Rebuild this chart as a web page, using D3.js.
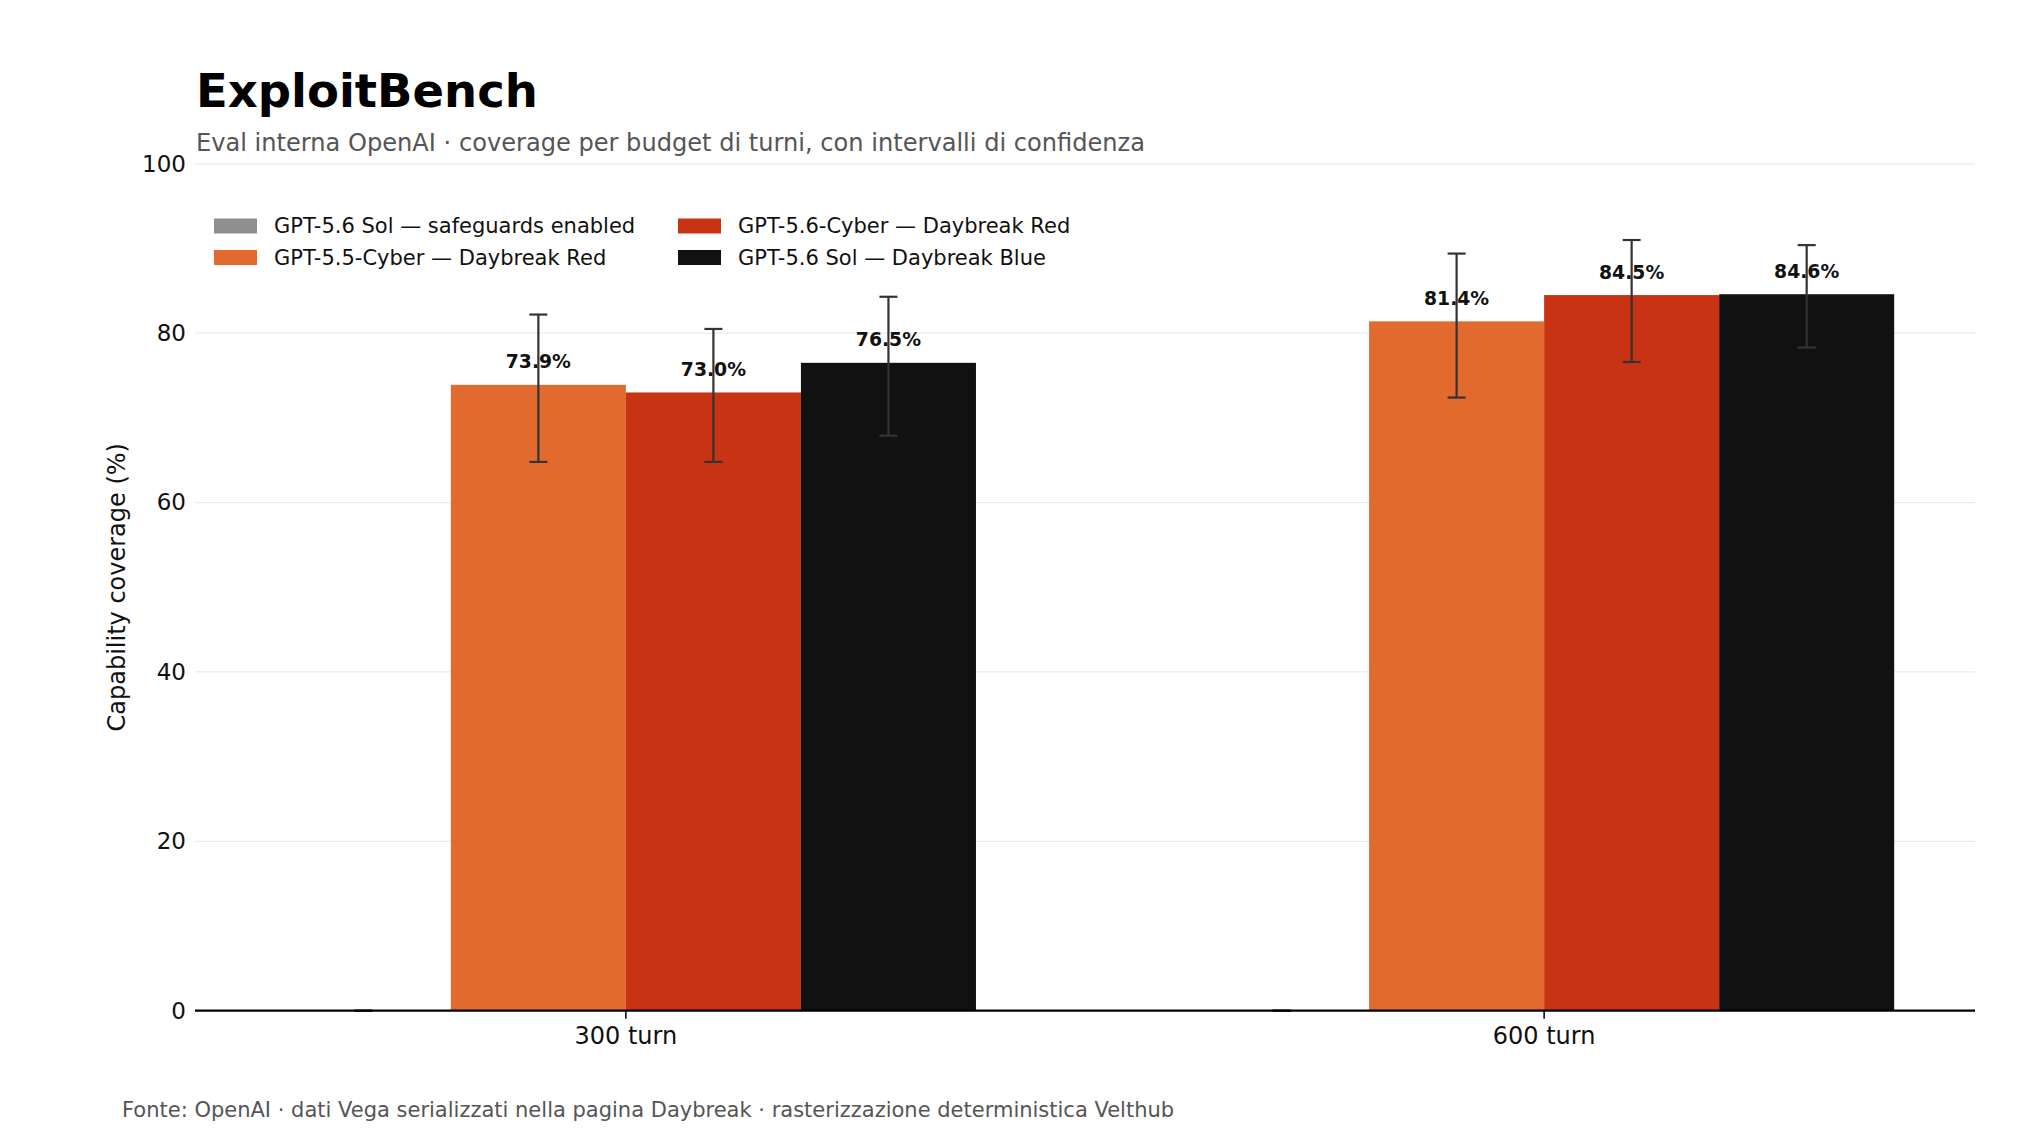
<!DOCTYPE html>
<html>
<head>
<meta charset="utf-8">
<script src="https://d3js.org/d3.v7.min.js"></script>
<style>
  body { margin: 0; background: #fff; }
  text { font-family: "DejaVu Sans", sans-serif; }
</style>
</head>
<body>
<script>
// Data
var categories = ["300 turn", "600 turn"];
var seriesNames = [
  "GPT-5.6 Sol — safeguards enabled",
  "GPT-5.5-Cyber — Daybreak Red",
  "GPT-5.6-Cyber — Daybreak Red",
  "GPT-5.6 Sol — Daybreak Blue"
];
var seriesColors = ["#8f8f8f", "#e26a2f", "#c83313", "#111111"];
var solSafeguards = [0, 0];
var cyber55Red = [73.9, 81.4];
var cyber56Red = [73.0, 84.5];
var solBlue = [76.5, 84.6];
var ciLow = [[0, 0], [64.8, 72.4], [64.8, 76.6], [67.9, 78.3]];
var ciHigh = [[0, 0], [82.2, 89.4], [80.5, 91.0], [84.3, 90.4]];
var yTicks = [0, 20, 40, 60, 80, 100];

var values = [solSafeguards, cyber55Red, cyber56Red, solBlue];

var width = 2040, height = 1139;
var margin = {top: 164, right: 65, bottom: 128, left: 195};

var svg = d3.select("body").append("svg")
    .attr("width", width)
    .attr("height", height);

svg.append("rect").attr("width", width).attr("height", height).attr("fill", "#fff");

// Scales
var x0 = d3.scaleBand()
    .domain(categories)
    .range([margin.left, width - margin.right])
    .paddingInner(0.2375)
    .paddingOuter(0.088);
var x1 = d3.scaleBand()
    .domain(d3.range(seriesNames.length))
    .range([0, x0.bandwidth()]);
var y = d3.scaleLinear()
    .domain([0, 100])
    .range([1010.7, 163.8]);

// Gridlines
svg.append("g")
    .selectAll("line")
    .data(yTicks)
  .enter().append("line")
    .attr("x1", margin.left)
    .attr("x2", width - margin.right)
    .attr("y1", function(d) { return y(d); })
    .attr("y2", function(d) { return y(d); })
    .attr("stroke", "#ebebeb")
    .attr("stroke-width", 1.3);

// Y axis (labels only)
var yAxis = svg.append("g")
    .attr("transform", "translate(" + margin.left + ",0)")
    .call(d3.axisLeft(y).tickValues(yTicks).tickSize(0).tickPadding(9));
yAxis.select(".domain").remove();
yAxis.selectAll("text")
    .style("font-family", "DejaVu Sans")
    .style("font-size", "23px")
    .attr("fill", "#111");

// Bars
var rows = [];
categories.forEach(function(c, i) {
  values.forEach(function(s, j) {
    rows.push({cat: c, s: j, v: s[i], lo: ciLow[j][i], hi: ciHigh[j][i]});
  });
});

svg.append("g")
    .selectAll("rect")
    .data(rows)
  .enter().append("rect")
    .attr("x", function(d) { return x0(d.cat) + x1(d.s); })
    .attr("width", x1.bandwidth())
    .attr("y", function(d) { return y(d.v); })
    .attr("height", function(d) { return y(0) - y(d.v); })
    .attr("fill", function(d) { return seriesColors[d.s]; });

// Error bars
var eb = svg.append("g")
    .selectAll("g")
    .data(rows)
  .enter().append("g")
    .attr("stroke", "#333")
    .attr("stroke-width", 2.2)
    .attr("transform", function(d) {
      return "translate(" + (x0(d.cat) + x1(d.s) + x1.bandwidth() / 2) + ",0)";
    });
eb.append("line")
    .attr("y1", function(d) { return y(d.lo); })
    .attr("y2", function(d) { return y(d.hi); });
eb.append("line")
    .attr("x1", -9).attr("x2", 9)
    .attr("y1", function(d) { return y(d.lo); })
    .attr("y2", function(d) { return y(d.lo); });
eb.append("line")
    .attr("x1", -9).attr("x2", 9)
    .attr("y1", function(d) { return y(d.hi); })
    .attr("y2", function(d) { return y(d.hi); });

// Value labels
svg.append("g")
    .selectAll("text")
    .data(rows.filter(function(d) { return d.v > 0; }))
  .enter().append("text")
    .attr("x", function(d) { return x0(d.cat) + x1(d.s) + x1.bandwidth() / 2; })
    .attr("y", function(d) { return y(d.v) - 16.5; })
    .attr("text-anchor", "middle")
    .attr("font-size", "18.8px")
    .attr("font-weight", "bold")
    .attr("fill", "#111")
    .text(function(d) { return d.v.toFixed(1) + "%"; });

// X axis
var xAxis = svg.append("g")
    .attr("transform", "translate(0," + y(0) + ")")
    .call(d3.axisBottom(x0).tickSize(8).tickPadding(8));
xAxis.select(".domain")
    .attr("stroke", "#000")
    .attr("stroke-width", 2.2)
    .attr("d", "M" + margin.left + ",0H" + (width - margin.right));
xAxis.selectAll(".tick line").attr("stroke", "#000").attr("stroke-width", 1.5);
xAxis.selectAll("text")
    .style("font-family", "DejaVu Sans")
    .style("font-size", "24px")
    .attr("fill", "#111");

// Y axis title
svg.append("text")
    .attr("transform", "translate(125," + (y(50)) + ") rotate(-90)")
    .attr("text-anchor", "middle")
    .attr("font-size", "24px")
    .attr("fill", "#111")
    .text("Capability coverage (%)");

// Title, subtitle, source
svg.append("text")
    .attr("x", 196).attr("y", 107)
    .attr("font-size", "46.5px")
    .attr("font-weight", "bold")
    .attr("fill", "#000")
    .text("ExploitBench");
svg.append("text")
    .attr("x", 196).attr("y", 151)
    .attr("font-size", "24.1px")
    .attr("fill", "#555")
    .text("Eval interna OpenAI · coverage per budget di turni, con intervalli di confidenza");
svg.append("text")
    .attr("x", 122).attr("y", 1117)
    .attr("font-size", "21px")
    .attr("fill", "#555")
    .text("Fonte: OpenAI · dati Vega serializzati nella pagina Daybreak · rasterizzazione deterministica Velthub");

// Legend (2 columns, filled column by column)
var legendX = [214, 678], legendY = [226, 257.5];
var legend = svg.append("g")
    .selectAll("g")
    .data(seriesNames)
  .enter().append("g")
    .attr("transform", function(d, i) {
      return "translate(" + legendX[Math.floor(i / 2)] + "," + legendY[i % 2] + ")";
    });
legend.append("rect")
    .attr("x", 0).attr("y", -7.5)
    .attr("width", 43).attr("height", 15)
    .attr("fill", function(d, i) { return seriesColors[i]; });
legend.append("text")
    .attr("x", 60).attr("y", 7)
    .attr("font-size", "21px")
    .attr("fill", "#111")
    .text(function(d) { return d; });
</script>
</body>
</html>
